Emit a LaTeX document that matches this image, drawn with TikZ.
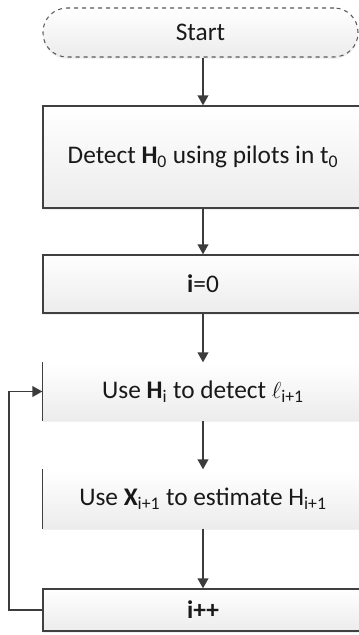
\documentclass[tikz,border=0pt]{standalone}
\usepackage{fontspec}
\setmainfont{Carlito}
\usetikzlibrary{arrows.meta,shadows}

\tikzset{every picture/.style={line width=0.75pt}}
\tikzset{
  stepbox/.style={rectangle, draw={rgb, 255:red, 64; green, 64; blue, 64}, line width=1pt,
    top color=white, bottom color={rgb, 255:red, 236; green, 236; blue, 236},
    minimum width=240pt, inner sep=0.75pt, align=center,
    font=\fontsize{19}{23}\selectfont, text={rgb, 255:red, 25; green, 25; blue, 25},
    drop shadow={opacity=0.12, shadow xshift=0pt, shadow yshift=-1.5pt}},
  openbox/.style={stepbox, draw=none},
  flow/.style={draw={rgb, 255:red, 60; green, 60; blue, 60}, line width=1.4pt,
    -{Triangle[width=8pt,length=7.5pt]}}
}

\begin{document}
\begin{tikzpicture}[x=0.75pt,y=0.75pt,yscale=-1,xscale=1]
	\useasboundingbox (0,0) rectangle (359,635);

	%Shape: Rounded Rectangle
	\node [stepbox, rounded corners=18pt, dashed, draw={rgb, 255:red, 90; green, 90; blue, 90}, line width=0.8pt,
	  minimum width=236.25pt, minimum height=36.75pt] (start) at (200.5,32.5) {Start};
	%Shape: Rectangle
	\node [stepbox, minimum height=76.5pt] (detect) at (203,157) {Detect \textbf{H}\textsubscript{0} using pilots in t\textsubscript{0}};
	%Shape: Rectangle
	\node [stepbox, minimum height=43.5pt] (init) at (203,284) {\textbf{i}=0};
	%Shape: Rectangle
	\node [openbox, minimum height=42.75pt] (useh) at (203,391.5) {Use \textbf{H}\textsubscript{i} to detect $\ell$\textsubscript{i+1}};
	\draw [draw={rgb, 255:red, 64; green, 64; blue, 64}, line width=1pt] (useh.north west) -- (useh.south west) ;
	%Shape: Rectangle
	\node [openbox, minimum height=43.5pt] (usex) at (203,499) {Use \textbf{X}\textsubscript{i+1} to estimate H\textsubscript{i+1}};
	\draw [draw={rgb, 255:red, 64; green, 64; blue, 64}, line width=1pt] (usex.north west) -- (usex.south west) ;
	%Shape: Rectangle
	\node [stepbox, minimum height=31.5pt] (incr) at (203,610) {\textbf{i++}};

	%Straight Lines
	\draw [flow] (start.south -| detect.north) -- (detect.north) ;
	\draw [flow] (detect) -- (init) ;
	\draw [flow] (init) -- (useh) ;
	\draw [flow] (useh) -- (usex) ;
	\draw [flow] (usex) -- (incr) ;
	%Elbow Line
	\draw [flow] (incr.west) -- ++(-33,0) |- (useh.west) ;

\end{tikzpicture}
\end{document}
